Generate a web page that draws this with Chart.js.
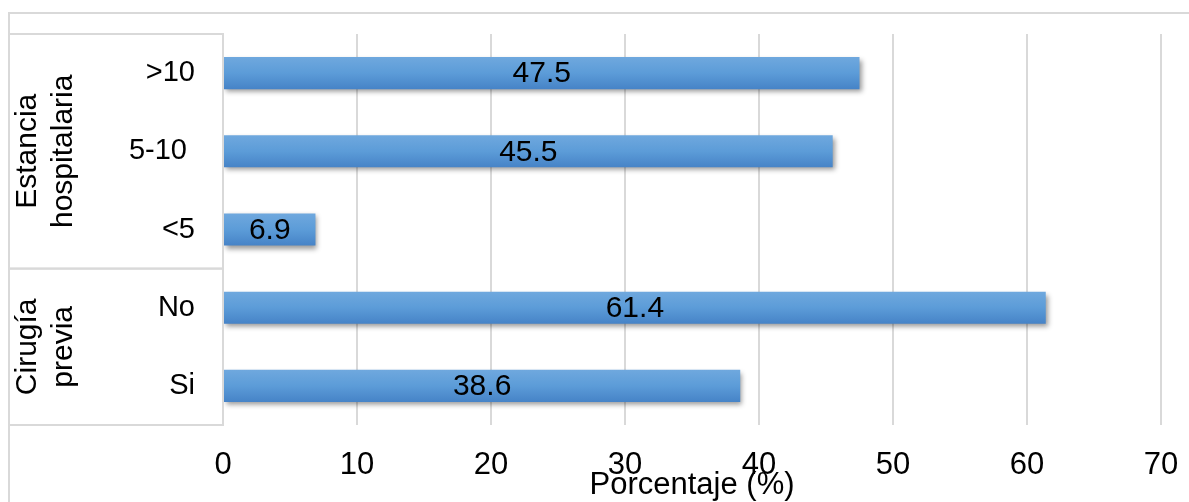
<!DOCTYPE html>
<html>
<head>
<meta charset="utf-8">
<script src="https://cdn.jsdelivr.net/npm/chart.js@4.4.1/dist/chart.umd.min.js"></script>
<style>
  html, body { margin: 0; padding: 0; background: #ffffff; overflow: hidden; }
  #wrap { width: 1189px; height: 502px; overflow: hidden; }
  canvas { display: block; }
</style>
</head>
<body>
<div id="wrap"><canvas id="c" width="1189" height="510"></canvas></div>
<script>
// ---- data ----
const categories = ['>10', '5-10 ', '<5', 'No', 'Si'];
const values = [47.5, 45.5, 6.9, 61.4, 38.6];
const groupLabels = [['Estancia', 'hospitalaria'], ['Cirugía', 'previa']];
const groupSizes = [3, 2];
const xTicks = [0, 10, 20, 30, 40, 50, 60, 70];
const axisTitle = 'Porcentaje (%)';

const FONT = "'Liberation Sans', Arial, sans-serif";
const GRID = '#d9d9d9';

function barGradient(ctx) {
  const chart = ctx.chart;
  if (!chart.chartArea || ctx.type !== 'data') return '#5b9bd5';
  const ys = chart.scales.y;
  const c = ys.getPixelForValue(ctx.dataIndex);
  const step = Math.abs(ys.getPixelForValue(1) - ys.getPixelForValue(0));
  const h = step * 0.41 / 2;
  const g = chart.ctx.createLinearGradient(0, c - h, 0, c + h);
  g.addColorStop(0, '#6fa8de');
  g.addColorStop(0.5, '#5c9cd8');
  g.addColorStop(1, '#4683c7');
  return g;
}

const shadowPlugin = {
  id: 'shadow',
  beforeDatasetsDraw(chart) {
    const c = chart.ctx;
    c.save();
    c.shadowColor = 'rgba(0,0,0,0.4)';
    c.shadowBlur = 5;
    c.shadowOffsetX = 2;
    c.shadowOffsetY = 3;
  },
  afterDatasetsDraw(chart) {
    chart.ctx.restore();
  }
};

const decorPlugin = {
  id: 'decor',
  afterDraw(chart) {
    const c = chart.ctx;
    const area = chart.chartArea;
    const ys = chart.scales.y;
    c.save();
    // outer frame
    c.strokeStyle = GRID;
    c.lineWidth = 2;
    c.beginPath();
    c.moveTo(9, 520);
    c.lineTo(9, 13);
    c.lineTo(1189, 13);
    c.stroke();
    // group boxes
    const step = ys.getPixelForValue(1) - ys.getPixelForValue(0);
    let idx = 0;
    groupSizes.forEach((n, gi) => {
      const top = ys.getPixelForValue(idx) - step / 2;
      const bot = ys.getPixelForValue(idx + n - 1) + step / 2;
      c.strokeStyle = GRID;
      c.lineWidth = 2;
      c.strokeRect(9, top, area.left - 9, bot - top);
      const cy = (top + bot) / 2;
      const cx = 46;
      c.save();
      c.translate(cx, cy);
      c.rotate(-Math.PI / 2);
      c.fillStyle = '#000';
      c.font = '30px ' + FONT;
      c.textAlign = 'center';
      c.textBaseline = 'middle';
      const lines = groupLabels[gi];
      const lh = 36;
      lines.forEach((t, li) => {
        c.fillText(t, 0, (li - (lines.length - 1) / 2) * lh);
      });
      c.restore();
      idx += n;
    });
    // value labels
    const meta = chart.getDatasetMeta(0);
    c.fillStyle = '#000';
    c.font = '30px ' + FONT;
    c.textAlign = 'center';
    c.textBaseline = 'middle';
    meta.data.forEach((el, i) => {
      c.fillText(String(values[i]), (el.x + el.base) / 2, el.y + 1);
    });
    c.restore();
  }
};

new Chart(document.getElementById('c'), {
  type: 'bar',
  data: {
    labels: categories,
    datasets: [{
      data: values,
      backgroundColor: barGradient,
      borderWidth: 0,
      categoryPercentage: 1.0,
      barPercentage: 0.41
    }]
  },
  options: {
    indexAxis: 'y',
    responsive: false,
    animation: false,
    events: [],
    layout: { padding: { top: 34, right: 28, left: 0, bottom: 0 } },
    plugins: {
      legend: { display: false },
      tooltip: { enabled: false },
      title: { display: false }
    },
    scales: {
      x: {
        min: xTicks[0],
        max: xTicks[xTicks.length - 1],
        afterBuildTicks(scale) { scale.ticks = xTicks.map(v => ({ value: v })); },
        afterFit(scale) { scale.height = 85; scale.paddingLeft = 0; scale.paddingRight = 0; },
        grid: { color: GRID, lineWidth: 2, drawTicks: false },
        border: { display: false },
        ticks: {
          color: '#000',
          font: { family: FONT, size: 31 },
          padding: 22,
          maxRotation: 0
        },
        title: {
          display: true,
          text: axisTitle,
          color: '#000',
          font: { family: FONT, size: 31 },
          padding: { top: 0, bottom: 6 }
        }
      },
      y: {
        afterFit(scale) { scale.width = 223; scale.paddingTop = 0; scale.paddingBottom = 0; },
        grid: { display: false, drawTicks: false },
        border: { display: false },
        ticks: {
          color: '#000',
          font: { family: FONT, size: 29 },
          padding: 28
        }
      }
    }
  },
  plugins: [shadowPlugin, decorPlugin]
});
</script>
</body>
</html>
